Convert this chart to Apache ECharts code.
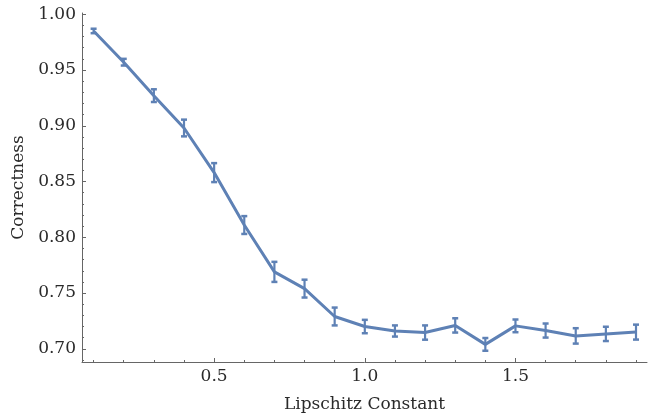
<!DOCTYPE html>
<html>
<head>
<meta charset="utf-8">
<script src="https://cdn.jsdelivr.net/npm/echarts@6/dist/echarts.min.js"></script>
<style>html,body{margin:0;padding:0;background:#fff;}#c{width:649px;height:419px;}</style>
</head>
<body>
<div id="c"></div>
<script>
const xValues = [0.1,0.2,0.3,0.4,0.5,0.6,0.7,0.8,0.9,1.0,1.1,1.2,1.3,1.4,1.5,1.6,1.7,1.8,1.9];
const yValues = [0.985,0.957,0.927,0.898,0.858,0.811,0.769,0.754,0.729,0.720,0.716,0.7146,0.721,0.704,0.7206,0.7164,0.7116,0.7134,0.715];
const yErrors = [0.002,0.003,0.0057,0.0075,0.0085,0.008,0.009,0.008,0.008,0.006,0.005,0.0064,0.0064,0.0057,0.0057,0.0063,0.0069,0.0064,0.0067];
const xMajorTicks = [0.5,1.0,1.5];
const xMinorTicks = [0.1,0.2,0.3,0.4,0.6,0.7,0.8,0.9,1.1,1.2,1.3,1.4,1.6,1.7,1.8,1.9];
const yMajorTicks = [0.70,0.75,0.80,0.85,0.90,0.95,1.00];
const yMinorTicks = [0.69,0.71,0.72,0.73,0.74,0.76,0.77,0.78,0.79,0.81,0.82,0.83,0.84,0.86,0.87,0.88,0.89,0.91,0.92,0.93,0.94,0.96,0.97,0.98,0.99];

const COLOR = '#5e81b5';
const AXIS = '#666';
const TEXT = '#2a2a2a';
const FONT = 'DejaVu Serif';
const xMin = 0.0615, xMax = 1.9365, yMin = 0.6882, yMax = 1.0011;

const lineData = xValues.map((x,i)=>[x,yValues[i]]);
const errData = xValues.map((x,i)=>[x,yValues[i]-yErrors[i],yValues[i]+yErrors[i]]);

const chart = echarts.init(document.getElementById('c'), null, {renderer:'canvas'});
chart.setOption({
  animation:false,
  backgroundColor:'#fff',
  grid:{left:82,top:13,width:565,height:349,containLabel:false},
  xAxis:[{
    type:'value',min:xMin,max:xMax,
    name:'Lipschitz Constant',nameLocation:'middle',nameGap:34,
    nameTextStyle:{fontFamily:FONT,fontSize:17,color:TEXT},
    axisLine:{show:true,lineStyle:{color:AXIS,width:1}},
    axisTick:{show:true,inside:true,length:4,customValues:xMajorTicks,lineStyle:{color:AXIS}},
    axisLabel:{show:true,customValues:xMajorTicks,formatter:v=>v.toFixed(1),margin:6,fontFamily:FONT,fontSize:17,color:TEXT},
    splitLine:{show:false}
  },{
    type:'value',min:xMin,max:xMax,position:'bottom',gridIndex:0,
    axisLine:{show:false},
    axisTick:{show:true,inside:true,length:2,customValues:xMinorTicks,lineStyle:{color:AXIS}},
    axisLabel:{show:false},splitLine:{show:false}
  }],
  yAxis:[{
    type:'value',min:yMin,max:yMax,
    name:'Correctness',nameLocation:'middle',nameGap:48,
    nameTextStyle:{fontFamily:FONT,fontSize:17,color:TEXT},
    axisLine:{show:true,lineStyle:{color:AXIS,width:1}},
    axisTick:{show:true,inside:true,length:4,customValues:yMajorTicks,lineStyle:{color:AXIS}},
    axisLabel:{show:true,customValues:yMajorTicks,formatter:v=>v.toFixed(2),margin:6,fontFamily:FONT,fontSize:17,color:TEXT},
    splitLine:{show:false}
  },{
    type:'value',min:yMin,max:yMax,position:'left',gridIndex:0,
    axisLine:{show:false},
    axisTick:{show:true,inside:true,length:2,customValues:yMinorTicks,lineStyle:{color:AXIS}},
    axisLabel:{show:false},splitLine:{show:false}
  }],
  series:[{
    type:'line',data:lineData,showSymbol:false,symbol:'none',
    lineStyle:{color:COLOR,width:3},itemStyle:{color:COLOR},z:3
  },{
    type:'custom',data:errData,z:4,
    renderItem:function(params,api){
      const x = api.value(0);
      const lo = api.coord([x,api.value(1)]);
      const hi = api.coord([x,api.value(2)]);
      const cap = 3;
      const style = {stroke:COLOR,lineWidth:2.2,fill:null};
      const capStyle = {stroke:COLOR,lineWidth:2.5,fill:null};
      return {type:'group',children:[
        {type:'line',shape:{x1:lo[0],y1:lo[1],x2:hi[0],y2:hi[1]},style:style},
        {type:'line',shape:{x1:lo[0]-cap,y1:lo[1],x2:lo[0]+cap,y2:lo[1]},style:capStyle},
        {type:'line',shape:{x1:hi[0]-cap,y1:hi[1],x2:hi[0]+cap,y2:hi[1]},style:capStyle}
      ]};
    }
  }]
});
</script>
</body>
</html>
